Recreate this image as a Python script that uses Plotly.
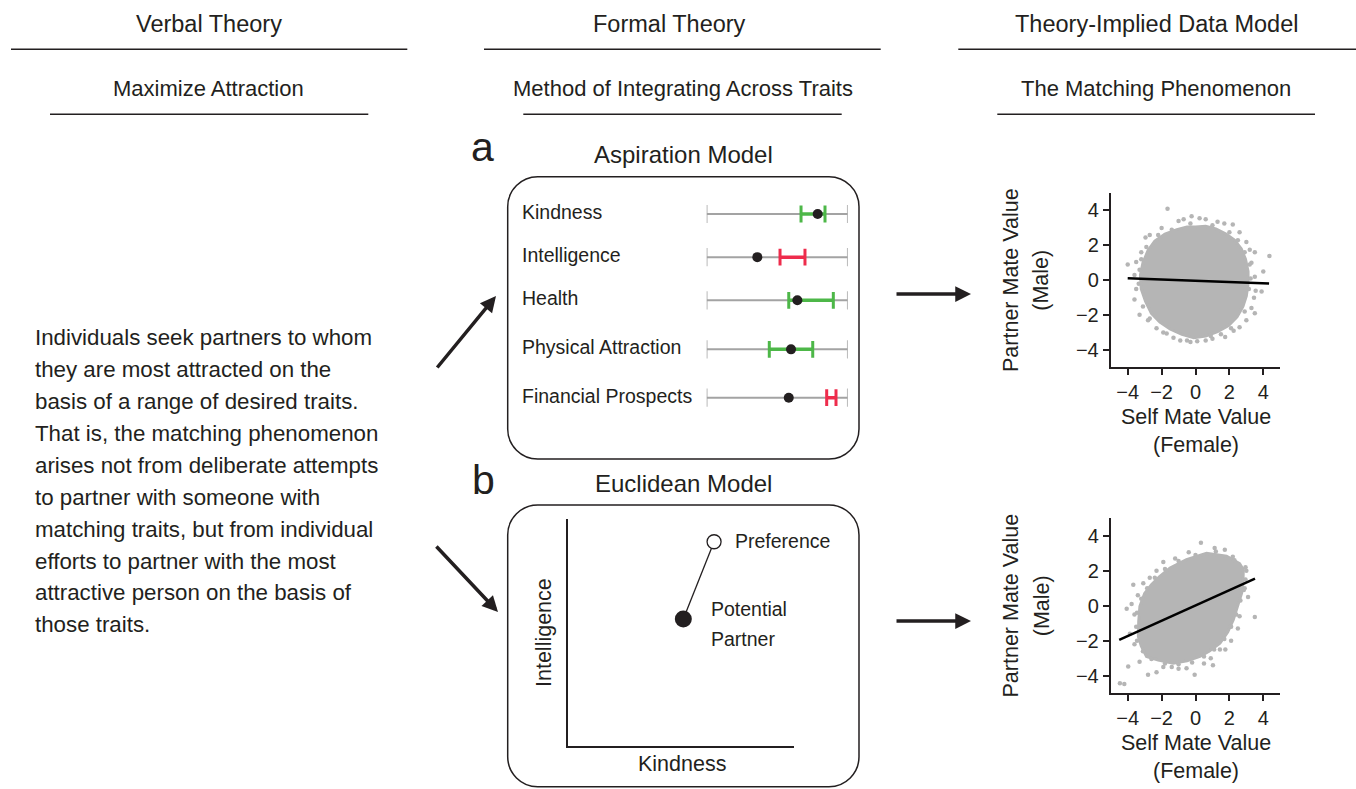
import plotly.graph_objects as go

# ---------------- data ----------------
COLUMN_HEADERS = ["Verbal Theory", "Formal Theory", "Theory-Implied Data Model"]
COLUMN_SUBHEADERS = ["Maximize Attraction", "Method of Integrating Across Traits",
                     "The Matching Phenomenon"]
VERBAL_LINES = [
    "Individuals seek partners to whom",
    "they are most attracted on the",
    "basis of a range of desired traits.",
    "That is, the matching phenomenon",
    "arises not from deliberate attempts",
    "to partner with someone with",
    "matching traits, but from individual",
    "efforts to partner with the most",
    "attractive person on the basis of",
    "those traits.",
]
PANEL_LETTERS = ["a", "b"]
PANEL_TITLES = ["Aspiration Model", "Euclidean Model"]

# Aspiration model (trait scale 0..1)
TRAITS = ["Kindness", "Intelligence", "Health", "Physical Attraction", "Financial Prospects"]
PARTNER_TRAIT = [0.787, 0.359, 0.643, 0.598, 0.582]
PREF_LOW = [0.669, 0.520, 0.582, 0.444, 0.851]
PREF_HIGH = [0.839, 0.697, 0.898, 0.752, 0.917]

# Euclidean model (Kindness, Intelligence on 0..10)
EUCLID_AXES = ["Kindness", "Intelligence"]
EUCLID_POINTS = ["Preference", "Potential<br>Partner"]
EUCLID_X = [6.45, 5.09]
EUCLID_Y = [9.01, 5.60]

# Scatter panels: dense cloud outline, outlying points, fitted line
ASP_CLOUD_X = [0.0, 0.6, 1.2, 1.8, 2.3, 2.7, 2.95, 3.1, 3.1, 3.0, 2.8, 2.45, 1.95, 1.3, 0.6,
               -0.1, -0.8, -1.5, -2.1, -2.6, -2.95, -3.2, -3.25, -3.1, -2.8, -2.4, -1.8, -1.1, -0.5]
ASP_CLOUD_Y = [3.05, 3.1, 2.95, 2.65, 2.3, 1.8, 1.2, 0.5, -0.2, -0.9, -1.5, -2.1, -2.6, -2.95, -3.2,
               -3.3, -3.1, -2.8, -2.4, -1.9, -1.2, -0.5, 0.3, 1.0, 1.7, 2.25, 2.65, 2.9, 3.05]
ASP_OUT_X = [-1.65, -0.23, 0.24, 0.6, -0.7, -1.0, 1.3, 1.7, 2.2, 2.6, -2.0, -2.7, -2.95, -3.2,
             -3.5, -4.0, -3.6, -3.5, -3.6, -3.3, -2.8, -2.3, -1.9, -1.3, -0.9, -0.3, 0.1, 0.6,
             1.0, 1.75, 2.25, 2.6, 3.0, 3.3, 3.5, 3.55, 3.45, 3.9, 4.0, 3.5, 3.3, 3.5, 3.2, 4.36, 3.0,
             -3.3, -3.35, -3.1, -2.7, -1.7, -0.5, 0.9, 1.5, 2.1, 2.9, 3.15, 3.25, 3.2, 2.9, 2.5,
             2.0, 1.0, -0.3, -1.4, -2.2, -2.9, -3.2]
ASP_OUT_Y = [4.1, 3.67, 3.55, 3.5, 3.5, 3.4, 3.35, 3.25, 3.2, 2.75, 3.0, 2.6, 2.45, 1.6,
             1.05, 0.9, 0.3, -0.5, -1.1, -1.98, -2.3, -2.75, -3.0, -3.3, -3.45, -3.55, -3.5, -3.45,
             -3.35, -3.25, -2.9, -2.7, -2.3, -1.6, -1.9, -0.6, -1.0, -0.65, 0.5, 0.2, 1.0, 1.6, 1.75,
             1.39, 2.2,
             0.6, -0.2, -1.5, -2.2, -3.05, -3.45, -3.2, -3.1, -2.75, -1.8, -0.5, 0.1, 0.9, 1.6, 2.3,
             2.75, 3.15, 3.25, 2.9, 2.6, 1.9, 1.2]
ASP_FIT_X = [-4.0, 4.34]
ASP_FIT_Y = [0.11, -0.19]

EUC_CLOUD_X = [-2.1, -1.5, -0.53, 0.65, 1.83, 2.6, 2.82, 2.8, 2.72, 2.5, 2.23, 1.9, 1.44, 0.8, 0.26,
               -0.5, -1.32, -2.2, -2.89, -3.2, -3.37, -3.35, -3.28, -3.0, -2.6]
EUC_CLOUD_Y = [1.68, 2.16, 2.63, 3.0, 2.83, 2.4, 2.06, 1.3, 0.72, 0.0, -0.8, -1.5, -2.14, -2.6, -2.9,
               -3.15, -3.28, -3.1, -2.9, -2.3, -1.76, -0.9, -0.04, 0.7, 1.2]
EUC_OUT_X = [0.32, 1.13, 1.73, -0.4, -1.2, -1.9, -2.3, -2.7, -3.08, -3.67, -3.77, -4.06, -3.6, -3.87,
             -3.6, -3.97, -3.3, -2.8, -2.3, -1.9, -1.0, -0.53, -0.05, 0.5, 1.03, 1.44, 1.76, 2.1, 2.5,
             2.6, 3.5, 3.1, 3.0, 2.9, 2.3, -4.46, -4.2, -3.4, -1.4, 0.9,
             -2.4, -1.8, -1.0, 0.0, 1.2, 2.2, 2.95, 2.95, 2.85, 2.65, 2.4, 2.1, 1.7, 1.1, 0.5,
             -0.2, -1.0, -1.8, -2.6, -3.1, -3.45, -3.5, -3.45, -3.2, -2.85]
EUC_OUT_Y = [3.6, 3.3, 3.2, 3.05, 2.7, 2.5, 2.0, 1.6, 1.28, 1.2, 0.1, -0.18, -0.5, -1.6,
             -2.2, -3.47, -3.2, -3.95, -3.8, -3.5, -3.6, -3.57, -3.95, -3.3, -3.4, -2.5, -2.5, -2.0, -1.3,
             -0.6, -0.65, 0.5, 2.0, 1.0, 2.6, -4.43, -4.47, 0.6, -3.5, -3.0,
             1.6, 2.1, 2.55, 2.9, 3.1, 2.8, 2.2, 1.5, 0.9, 0.3, -0.5, -1.2, -1.9, -2.5, -2.9,
             -3.25, -3.35, -3.3, -3.05, -2.6, -2.0, -1.2, -0.4, 0.4, 1.0]
EUC_FIT_X = [-4.5, 3.51]
EUC_FIT_Y = [-1.95, 1.55]

SCATTER_TICKS = [-4, -2, 0, 2, 4]
SCATTER_XTITLE = ["Self Mate Value", "(Female)"]
SCATTER_YTITLE = ["Partner Mate Value", "(Male)"]

# ---------------- styling / layout constants ----------------
W, H = 1356, 789
INK = "#231f20"
GRAY = "#a3a3a3"
GREEN = "#4db748"
RED = "#ee2c4c"
CLOUD = "#b5b5b5"
FONT = "Liberation Sans, Arial, sans-serif"
ROW_POS = [0, 1, 2, 3.136, 4.257]


def px(x):
    return x / W


def py(y):
    return 1 - y / H


def txt(x, y, s, size, xanchor="center", angle=0):
    return dict(x=px(x), y=py(y), xref="paper", yref="paper", text=s, showarrow=False,
                font=dict(size=size, color=INK, family=FONT), xanchor=xanchor,
                yanchor="middle", textangle=angle)


def arrow(tail, tip):
    return dict(x=px(tip[0]), y=py(tip[1]), xref="paper", yref="paper",
                ax=tail[0] - tip[0], ay=tail[1] - tip[1], text="", showarrow=True,
                arrowhead=2, arrowsize=0.9, arrowwidth=3.5, arrowcolor=INK, standoff=0)


def hline(x0, x1, y):
    return dict(type="line", xref="paper", yref="paper", x0=px(x0), x1=px(x1),
                y0=py(y), y1=py(y), line=dict(color=INK, width=1.6))


def rrect(x0, y0, x1, y1, r):
    k = 0.5523 * r
    pts = [
        ("M", [(x0 + r, y0)]),
        ("L", [(x1 - r, y0)]),
        ("C", [(x1 - r + k, y0), (x1, y0 + r - k), (x1, y0 + r)]),
        ("L", [(x1, y1 - r)]),
        ("C", [(x1, y1 - r + k), (x1 - r + k, y1), (x1 - r, y1)]),
        ("L", [(x0 + r, y1)]),
        ("C", [(x0 + r - k, y1), (x0, y1 - r + k), (x0, y1 - r)]),
        ("L", [(x0, y0 + r)]),
        ("C", [(x0, y0 + r - k), (x0 + r - k, y0), (x0 + r, y0)]),
    ]
    path = ""
    for cmd, ps in pts:
        path += cmd + " ".join(f"{px(a):.5f},{py(b):.5f}" for a, b in ps) + " "
    path += "Z"
    return dict(type="path", xref="paper", yref="paper", path=path,
                line=dict(color=INK, width=1.5), fillcolor="rgba(0,0,0,0)")


fig = go.Figure()

# ---- Aspiration model ----
for i, trait in enumerate(TRAITS):
    r = ROW_POS[i]
    fig.add_trace(go.Scatter(
        x=[0, 1], y=[r, r], mode="lines+markers", xaxis="x", yaxis="y",
        line=dict(color=GRAY, width=2),
        marker=dict(symbol="line-ns", size=13, line=dict(color=GRAY, width=1.5)),
        hoverinfo="skip"))
    v, lo, hi = PARTNER_TRAIT[i], PREF_LOW[i], PREF_HIGH[i]
    col = GREEN if lo <= v <= hi else RED
    fig.add_trace(go.Scatter(
        x=[lo, hi], y=[r, r], mode="lines+markers", xaxis="x", yaxis="y",
        line=dict(color=col, width=3.5),
        marker=dict(symbol="line-ns", size=12, line=dict(color=col, width=3)),
        hoverinfo="skip"))
    fig.add_trace(go.Scatter(
        x=[v], y=[r], mode="markers", xaxis="x", yaxis="y",
        marker=dict(size=10, color=INK), hoverinfo="skip"))

# ---- Euclidean model ----
fig.add_trace(go.Scatter(x=EUCLID_X, y=EUCLID_Y, mode="lines", xaxis="x2", yaxis="y2",
                         line=dict(color=INK, width=1.3), hoverinfo="skip"))
fig.add_trace(go.Scatter(x=[EUCLID_X[0]], y=[EUCLID_Y[0]], mode="markers", xaxis="x2", yaxis="y2",
                         marker=dict(size=14, color="white", line=dict(color=INK, width=1.3)),
                         hoverinfo="skip"))
fig.add_trace(go.Scatter(x=[EUCLID_X[1]], y=[EUCLID_Y[1]], mode="markers", xaxis="x2", yaxis="y2",
                         marker=dict(size=17, color=INK), hoverinfo="skip"))

# ---- scatter panels ----
for (cx, cy, ox, oy, fx, fy, xa, ya) in [
    (ASP_CLOUD_X, ASP_CLOUD_Y, ASP_OUT_X, ASP_OUT_Y, ASP_FIT_X, ASP_FIT_Y, "x3", "y3"),
    (EUC_CLOUD_X, EUC_CLOUD_Y, EUC_OUT_X, EUC_OUT_Y, EUC_FIT_X, EUC_FIT_Y, "x4", "y4"),
]:
    fig.add_trace(go.Scatter(x=cx + cx[:1], y=cy + cy[:1], mode="lines", fill="toself",
                             fillcolor=CLOUD, line=dict(color=CLOUD, width=3),
                             xaxis=xa, yaxis=ya, hoverinfo="skip"))
    fig.add_trace(go.Scatter(x=ox, y=oy, mode="markers", marker=dict(size=4.5, color=CLOUD),
                             xaxis=xa, yaxis=ya, hoverinfo="skip"))
    fig.add_trace(go.Scatter(x=fx, y=fy, mode="lines", line=dict(color="black", width=2.5),
                             xaxis=xa, yaxis=ya, hoverinfo="skip"))

hidden = dict(visible=False, showgrid=False, zeroline=False)
euc_axis = dict(showline=True, linecolor=INK, linewidth=1.5, showticklabels=False, ticks="",
                showgrid=False, zeroline=False, range=[0, 10], fixedrange=True)
sc_axis = dict(showline=True, linecolor=INK, linewidth=2, ticks="outside", ticklen=6,
               tickwidth=1.5, tickcolor=INK, tickvals=SCATTER_TICKS, range=[-5, 5],
               showgrid=False, zeroline=False, tickfont=dict(size=20, color=INK, family=FONT))

xs_dom = [px(1110.75), px(1280.25)]

annotations = []
# headers
for cxp, s in zip([208.8, 669.7, 1156], COLUMN_HEADERS):
    annotations.append(txt(cxp, 23.7, s, 23.5))
for cxp, s in zip([208.8, 683, 1155.5], COLUMN_SUBHEADERS):
    annotations.append(txt(cxp, 88.8, s, 22))
# paragraph
for i, line in enumerate(VERBAL_LINES):
    annotations.append(txt(33.3, 337.7 + i * 31.9, line, 22.3, xanchor="left"))
# panel letters and titles
annotations.append(txt(482.5, 147.3, PANEL_LETTERS[0], 41))
annotations.append(txt(483, 480.3, PANEL_LETTERS[1], 41))
annotations.append(txt(683, 155, PANEL_TITLES[0], 24))
annotations.append(txt(683, 483, PANEL_TITLES[1], 24))
# trait labels
for i, trait in enumerate(TRAITS):
    annotations.append(dict(x=px(520), y=ROW_POS[i], xref="paper", yref="y", text=trait,
                            showarrow=False, xanchor="left", yanchor="middle", yshift=2,
                            font=dict(size=19.5, color=INK, family=FONT)))
# euclidean labels
annotations.append(txt(681.7, 764, EUCLID_AXES[0], 21.5))
annotations.append(txt(544, 633, EUCLID_AXES[1], 21.5, angle=-90))
annotations.append(txt(732.7, 540.8, EUCLID_POINTS[0], 19.5, xanchor="left"))
for j, part in enumerate(EUCLID_POINTS[1].split("<br>")):
    annotations.append(txt(709, 609.2 + j * 30, part, 19.5, xanchor="left"))
# scatter axis titles
for yc_axis, y_top in [(280.2, 367.4), (605.7, 693.2)]:
    annotations.append(txt(1195.5, y_top + 49.3, SCATTER_XTITLE[0], 21.5))
    annotations.append(txt(1195.5, y_top + 77.6, SCATTER_XTITLE[1], 21.5))
    annotations.append(txt(1010.8, yc_axis, SCATTER_YTITLE[0], 21.5, angle=-90))
    annotations.append(txt(1041.5, yc_axis, SCATTER_YTITLE[1], 21.5, angle=-90))
# arrows
annotations.append(arrow((436, 369), (496, 296)))
annotations.append(arrow((435, 545), (498, 612)))
annotations.append(arrow((895, 294), (971, 294)))
annotations.append(arrow((895, 621), (971, 621)))

shapes = [
    hline(11, 407.3, 49.3), hline(50, 368.3, 114.3),
    hline(484, 880.7, 49.3), hline(523.3, 841.7, 114.3),
    hline(958.3, 1356, 49.3), hline(997.3, 1315, 114.3),
    rrect(507.7, 176.7, 859, 459, 30),
    rrect(507.7, 505, 859, 786.7, 30),
]

fig.update_layout(
    width=W, height=H, margin=dict(l=0, r=0, t=0, b=0),
    template="none", paper_bgcolor="white", plot_bgcolor="rgba(0,0,0,0)",
    showlegend=False, font=dict(family=FONT, color=INK),
    xaxis=dict(domain=[px(706.7), px(847.7)], range=[0, 1], anchor="y", **hidden),
    yaxis=dict(domain=[py(419.3), py(192.4)], range=[4.757, -0.5], anchor="x", **hidden),
    xaxis2=dict(domain=[px(568.3), px(794.3)], anchor="y2", **euc_axis),
    yaxis2=dict(domain=[py(746), py(519.3)], anchor="x2", **euc_axis),
    xaxis3=dict(domain=xs_dom, anchor="y3", **sc_axis),
    yaxis3=dict(domain=[py(367.4), py(193.06)], anchor="x3", **sc_axis),
    xaxis4=dict(domain=xs_dom, anchor="y4", **sc_axis),
    yaxis4=dict(domain=[py(693.2), py(518.2)], anchor="x4", **sc_axis),
    annotations=annotations, shapes=shapes,
)

fig.write_html("out.html", config={"displayModeBar": False},
               post_script="document.body.style.margin='0px';document.body.style.overflow='hidden';")
